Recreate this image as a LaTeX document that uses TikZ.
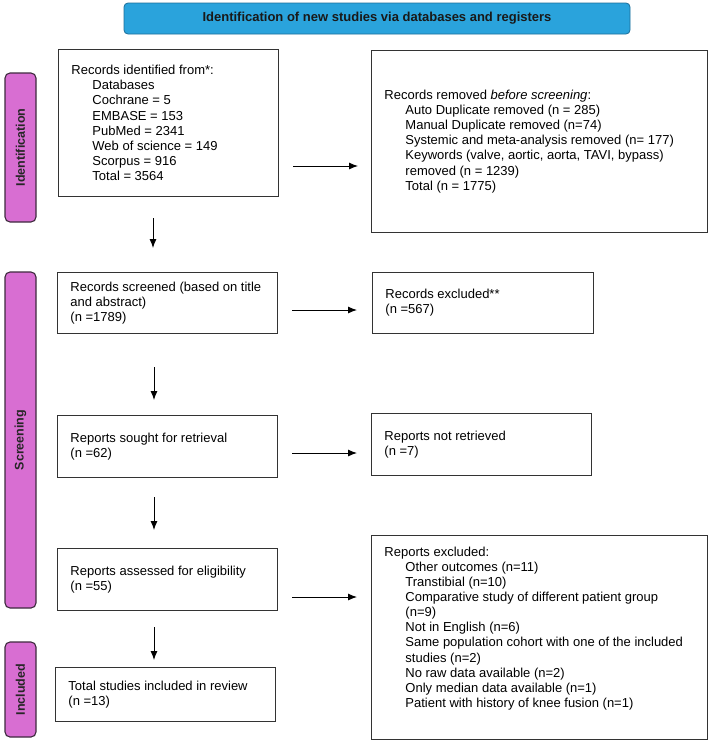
\documentclass[tikz,border=0pt]{standalone}
\usepackage{fontspec}
\setmainfont{Liberation Sans}
\usetikzlibrary{arrows.meta}
\definecolor{titlebg}{HTML}{2AA3DC}
\definecolor{titlebd}{HTML}{1C6E9A}
\definecolor{pillbg}{HTML}{D86ED2}
\definecolor{pillbd}{HTML}{3D2A3D}
\definecolor{boxbd}{HTML}{333333}
\newcommand{\ind}{\hspace*{21pt}}
\begin{document}
\begin{tikzpicture}[x=1pt,y=-1pt,
  bx/.style={draw=boxbd, line width=0.9pt, inner sep=0pt, anchor=north west,
    font=\fontsize{13}{15.1}\selectfont},
  pillst/.style={draw=pillbd, fill=pillbg, line width=1.1pt, rounded corners=5pt,
    rotate=90, inner sep=0pt, font=\fontsize{12.5}{14}\selectfont\bfseries, text=black!85},
  titlest/.style={draw=titlebd, fill=titlebg, line width=0.8pt, rounded corners=4pt,
    inner sep=0pt, font=\fontsize{13}{15}\selectfont\bfseries, text=black!90},
  arr/.style={line width=0.9pt, -{Latex[length=9pt,width=7pt]}}]
\useasboundingbox (0,0) rectangle (709,742);

% title
\node[titlest, minimum width=506pt, minimum height=31pt] (title) at (377,18.5)
  {Identification of new studies via databases and registers};

% phase pills
\node[pillst, minimum width=149pt, minimum height=31pt] (idp) at (20.5,147.5) {Identification};
\node[pillst, minimum width=336pt, minimum height=31pt] (scp) at (20.5,440) {Screening};
\node[pillst, minimum width=95pt, minimum height=31pt] (inp) at (20.5,689.5) {Included};

% boxes
\node[bx, minimum width=220pt, minimum height=147pt] (idb) at (58,49)
  {\parbox{194pt}{Records identified from*:\\
   \ind Databases\\
   \ind Cochrane = 5\\
   \ind EMBASE = 153\\
   \ind PubMed = 2341\\
   \ind Web of science = 149\\
   \ind Scorpus = 916\\
   \ind Total = 3564}};

\node[bx, minimum width=336pt, minimum height=182pt] (rem) at (371,50)
  {\parbox{310pt}{Records removed \emph{before screening}:\\
   \ind Auto Duplicate removed (n = 285)\\
   \ind Manual Duplicate removed (n=74)\\
   \ind Systemic and meta-analysis removed (n= 177)\\
   \ind Keywords (valve, aortic, aorta, TAVI, bypass)\\
   \ind removed (n = 1239)\\
   \ind Total (n = 1775)}};

\node[bx, minimum width=220pt, minimum height=61pt] (scr) at (57,272)
  {\parbox{194pt}{Records screened (based on title\\ and abstract)\\ (n =1789)}};

\node[bx, minimum width=221pt, minimum height=61pt] (exc) at (372,272)
  {\parbox{195pt}{Records excluded**\\ (n =567)}};

\node[bx, minimum width=220pt, minimum height=62pt] (sou) at (57,415)
  {\parbox{194pt}{Reports sought for retrieval\\ (n =62)}};

\node[bx, minimum width=220pt, minimum height=62pt] (nre) at (371,413)
  {\parbox{194pt}{Reports not retrieved\\ (n =7)}};

\node[bx, minimum width=220pt, minimum height=62pt] (ass) at (57,548)
  {\parbox{194pt}{Reports assessed for eligibility\\ (n =55)}};

\node[bx, minimum width=220pt, minimum height=54pt] (inc) at (55,667)
  {\parbox{194pt}{Total studies included in review\\ (n =13)}};

\node[bx, minimum width=336pt, minimum height=204pt] (rex) at (371,535)
  {\parbox[c][181pt][t]{310pt}{Reports excluded:\\
   \ind Other outcomes (n=11)\\
   \ind Transtibial (n=10)\\
   \ind Comparative study of different patient group\\
   \ind (n=9)\\
   \ind Not in English (n=6)\\
   \ind Same population cohort with one of the included\\
   \ind studies (n=2)\\
   \ind No raw data available (n=2)\\
   \ind Only median data available (n=1)\\
   \ind Patient with history of knee fusion (n=1)}};

% arrow end points
\coordinate (r1s) at (293,166); \coordinate (r1e) at (358,166);
\coordinate (r2s) at (292,310); \coordinate (r2e) at (357,310);
\coordinate (r3s) at (292,453); \coordinate (r3e) at (357,453);
\coordinate (r4s) at (292,597); \coordinate (r4e) at (357,597);
\coordinate (d1s) at (153,218); \coordinate (d1e) at (153,248);
\coordinate (d2s) at (154,367); \coordinate (d2e) at (154,400);
\coordinate (d3s) at (154,497); \coordinate (d3e) at (154,530);
\coordinate (d4s) at (154,627); \coordinate (d4e) at (154,660);

\draw[arr] (r1s) -- (r1e);
\draw[arr] (r2s) -- (r2e);
\draw[arr] (r3s) -- (r3e);
\draw[arr] (r4s) -- (r4e);
\draw[arr] (d1s) -- (d1e);
\draw[arr] (d2s) -- (d2e);
\draw[arr] (d3s) -- (d3e);
\draw[arr] (d4s) -- (d4e);
\end{tikzpicture}
\end{document}
